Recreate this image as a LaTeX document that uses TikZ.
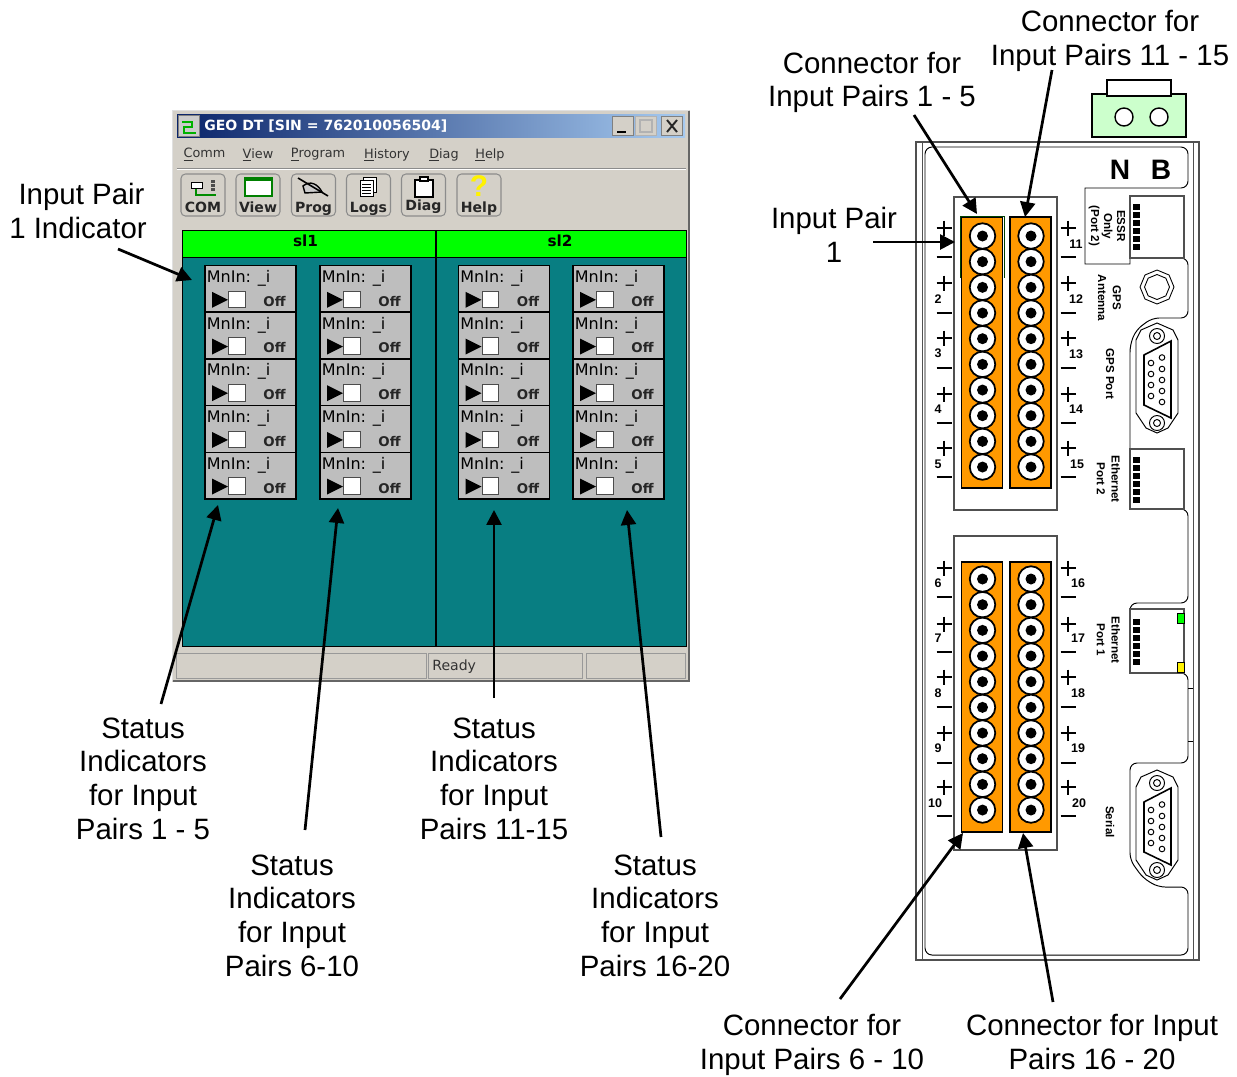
\documentclass[tikz,border=0pt]{standalone}
\usepackage{fontspec}
\setmainfont{Liberation Sans}
\newfontfamily\winfont{DejaVu Sans}
\usepackage{tikz}
\usetikzlibrary{arrows.meta,calc,shapes.geometric}
\definecolor{wingray}{HTML}{D4D0C8}
\definecolor{winteal}{HTML}{087E82}
\definecolor{wingreen}{HTML}{00FF00}
\definecolor{cellgray}{HTML}{BEBEBE}
\definecolor{blockorange}{HTML}{FF9900}
\definecolor{plugmint}{HTML}{CCFFCC}
\definecolor{titledark}{HTML}{0A246A}
\definecolor{titlelight}{HTML}{A6CAF0}
\definecolor{devline}{HTML}{505050}

\begin{document}
\begin{tikzpicture}[
  x=0.02cm, y=-0.02cm,
  lbl/.style={align=center, inner sep=0pt, font=\fontsize{16.75}{19.2}\selectfont},
  arw/.style={line width=1.55pt, -{Triangle[length=8.5pt,width=8.5pt]}},
  cell/.style={draw=black, fill=cellgray, line width=0.8pt, minimum width=1.82cm,
               minimum height=0.934cm, inner sep=0pt},
  celltxt/.style={inner sep=0pt, anchor=west, font=\winfont\fontsize{9.1}{10}\selectfont},
  celloff/.style={inner sep=0pt, font=\winfont\bfseries\fontsize{7.6}{9}\selectfont, text=black!85},
  chk/.style={draw=black!70, fill=white, line width=0.5pt, minimum size=0.33cm, inner sep=0pt},
  menu/.style={inner sep=0pt, font=\winfont\fontsize{7.3}{9}\selectfont, text=black!80},
  tool/.style={draw=black!45, fill=wingray, rounded corners=2.5pt, line width=0.6pt,
               minimum width=0.88cm, minimum height=0.84cm, inner sep=0pt},
  tooltxt/.style={inner sep=0pt, font=\winfont\bfseries\fontsize{8}{9}\selectfont, text=black!85},
  field/.style={draw=black!40, fill=wingray, line width=0.5pt, inner sep=0pt,
                minimum height=0.5cm, anchor=north west},
  frm/.style={draw=devline, fill=white, line width=1.1pt, minimum width=2.06cm, inner sep=0pt},
  blk/.style={draw=black, fill=blockorange, line width=0.9pt, minimum width=0.82cm, inner sep=0pt},
  pin/.style={circle, draw=black, fill=white, line width=1pt, minimum size=0.51cm, inner sep=0pt},
  pinhole/.style={circle, fill=black, minimum size=0.22cm, inner sep=0pt},
  num/.style={inner sep=0pt, font=\bfseries\fontsize{7.1}{8}\selectfont},
  devtxt/.style={inner sep=0pt, rotate=-90, align=center, font=\bfseries\fontsize{6.6}{8.4}\selectfont},
  dev/.style={draw=black, line width=0.55pt},
  sign/.style={draw=black, line width=0.9pt},
  port/.style={draw=devline, fill=white, line width=0.6pt, minimum width=1.08cm, inner sep=0pt}
]
  \useasboundingbox (0,0) rectangle (1237,1076);

  % window
  \fill[wingray] (172,110) rectangle (690,682);
  \draw[black!12, line width=0.8pt] (172.5,681) -- (172.5,110.5) -- (689,110.5);
  \draw[black!60, line width=1.1pt] (172.5,681) -- (689,681) -- (689,110.5);
  \shade[left color=titledark, right color=titlelight] (177,114) rectangle (685,137);
  \node[draw=black!50, fill=black!20, minimum size=0.42cm, inner sep=0pt] (appicon) at (189,126) {};
  \draw[green!70!black, line width=1pt] (182,122) -- (192,122) -- (192,127) -- (184,127) -- (184,133) -- (196,133);
  \node[anchor=west, inner sep=0pt, text=white, font=\winfont\bfseries\fontsize{8}{9}\selectfont]
    (title) at (204,126) {GEO DT [SIN = 762010056504]};
  \foreach \n/\c/\x in {min/black!50/623,max/black!30/646,cls/black!50/672}
    \node[draw=\c, fill=wingray, minimum width=0.42cm, minimum height=0.38cm, inner sep=0pt] (\n) at (\x,126) {};
  \draw[black, line width=1.2pt] (617,132) -- (626,132);
  \draw[black!30, line width=0.7pt] (640,120) rectangle (652,132);
  \draw[black!85, line width=1.1pt] (667,120) -- (677,132) (677,120) -- (667,132);

  \node[menu] (mcomm) at (204.5,155) {\underline{C}omm};
  \node[menu] (mview) at (258,155) {\underline{V}iew};
  \node[menu] (mprog) at (318,155) {\underline{P}rogram};
  \node[menu] (mhist) at (387,155) {\underline{H}istory};
  \node[menu] (mdiag) at (444,155) {\underline{D}iag};
  \node[menu] (mhelp) at (490,155) {\underline{H}elp};
  \draw[black!45, line width=0.5pt] (177,168) -- (686,168);
  \draw[white, line width=0.5pt] (177,169) -- (686,169);

  \foreach \n/\x/\t/\ty in {com/203/COM/207,view/258/View/207,prog/313.5/Prog/209,logs/368.5/Logs/209,diag/423.5/Diag/207,help/479/Help/209} {
    \node[tool] (b\n) at (\x,195) {};
    \node[tooltxt] (t\n) at (\x,\ty) {\t};
  }
  % toolbar icons
  \draw[black, fill=white, line width=0.5pt] (191,182) rectangle (202,188);
  \draw[green!55!black, line width=0.9pt] (196,189) -- (196,195) -- (216,195);
  \foreach \y in {180,184,188} \fill[black!70] (211,\y) rectangle (215,\y+2.5);
  \draw[green!50!black, fill=white, line width=1.2pt] (245,178) rectangle (272,196);
  \draw[green!50!black, line width=2pt] (245,179) -- (272,179);
  \draw[black, fill=black!20, line width=0.8pt] (303,186) .. controls (310,180) and (318,184) .. (322,192) -- (305,193) -- cycle;
  \draw[black, line width=0.9pt] (298,178) -- (328,196);
  \draw[black, fill=white, line width=0.5pt] (363,177) rectangle (376,192);
  \draw[black, fill=white, line width=0.5pt] (360,180) rectangle (373,196);
  \foreach \y in {184,187,190,193} \draw[black, line width=0.5pt] (362,\y) -- (371,\y);
  \draw[black, fill=white, line width=0.7pt] (415,180) rectangle (433,197);
  \draw[black, fill=white, line width=0.7pt] (420,177) rectangle (428,181);
  \node[inner sep=0pt, text=yellow, font=\bfseries\fontsize{17}{17}\selectfont] (qmark) at (479,186.5) {?};

  % client area
  \node[draw=black, fill=wingreen, line width=0.6pt, minimum width=10.08cm, minimum height=0.54cm,
        anchor=north west, inner sep=0pt] (head) at (182,230) {};
  \node[draw=black, fill=winteal, line width=0.6pt, minimum width=10.08cm, minimum height=7.78cm,
        anchor=north west, inner sep=0pt] (area) at (182,257) {};
  \draw[black, line width=0.6pt] (436,230) -- (436,646);
  \node[inner sep=0pt, font=\winfont\bfseries\fontsize{8.7}{10}\selectfont] (sla) at (305.5,241) {sl1};
  \node[inner sep=0pt, font=\winfont\bfseries\fontsize{8.7}{10}\selectfont] (slb) at (560,241) {sl2};

  \foreach \c/\x in {1/250.5,2/365.5,3/504,4/618.5}
    \foreach \r/\y in {1/288.8,2/335.5,3/382.2,4/428.9,5/475.6} {
      \node[cell] (cell\c\r) at (\x,\y) {};
      \node[celltxt] (mn\c\r) at ($(cell\c\r)+(-44,-10.5)$) {MnIn: \_i};
      \fill[black] ($(cell\c\r)+(-38.5,3)$) -- ($(cell\c\r)+(-38.5,19)$) -- ($(cell\c\r)+(-22.5,11)$) -- cycle;
      \node[chk] (sq\c\r) at ($(cell\c\r)+(-13.5,10.5)$) {};
      \node[celloff] (off\c\r) at ($(cell\c\r)+(24,12.5)$) {Off};
    }

  \node[field, minimum width=5cm] (fa) at (176,653) {};
  \node[field, minimum width=3.08cm] (fb) at (428,653) {};
  \node[field, minimum width=1.98cm] (fc) at (586,653) {};
  \node[anchor=west, inner sep=0pt, font=\winfont\fontsize{8}{10}\selectfont, text=black!80] (ready) at (432,667) {Ready};

  % device
  \draw[dev, draw=devline, line width=0.8pt] (916,142) rectangle (1199,960);
  \draw[dev, draw=devline] (922,142) -- (922,960) (1193,142) -- (1193,960);
  \draw[dev, rounded corners=4pt] (925,200) -- (925,147) -- (1188,147) -- (1188,188)
    -- (1120,188) [sharp corners] -- (1085,188) -- (1085,264) -- (1130,264) -- (1130,258) [rounded corners=4pt]
    -- (1188,258) -- (1188,318) -- (1152,318) -- (1136,330) -- (1130,345) [sharp corners] -- (1130,509) [rounded corners=4pt]
    -- (1188,509) -- (1188,603) -- (1130,603) [sharp corners] -- (1130,609) -- (1130,673) [rounded corners=4pt]
    -- (1188,673) -- (1188,763) -- (1130,763) -- (1130,860) -- (1143,878) -- (1158,887) -- (1188,887)
    -- (1188,955) -- (925,955) -- (925,200);
  \draw[dev] (1188,688) -- (1193,688) (1188,741) -- (1193,741);

  \node[draw=black, fill=plugmint, line width=0.9pt, minimum width=1.88cm, minimum height=0.86cm, inner sep=0pt] (plug) at (1139,115.5) {};
  \node[draw=black, fill=white, line width=0.7pt, minimum width=1.28cm, minimum height=0.32cm, inner sep=0pt] (plugtop) at (1139,88) {};
  \node[circle, draw=black, fill=white, line width=0.8pt, minimum size=0.36cm, inner sep=0pt] (plugl) at (1124,117) {};
  \node[circle, draw=black, fill=white, line width=0.8pt, minimum size=0.36cm, inner sep=0pt] (plugr) at (1159,117) {};

  \node[inner sep=0pt, font=\bfseries\fontsize{16}{16}\selectfont] (labn) at (1120,170) {N};
  \node[inner sep=0pt, font=\bfseries\fontsize{16}{16}\selectfont] (labb) at (1161,170) {B};

  % upper and lower terminal frames
  \node[frm, minimum height=6.26cm] (frmup) at (1005.5,353.5) {};
  \node[frm, minimum height=6.28cm] (frmlo) at (1005.5,693) {};
  \node[blk, minimum height=5.42cm] (blkA) at (982,352.5) {};
  \node[blk, minimum height=5.42cm] (blkB) at (1030.5,352.5) {};
  \node[blk, minimum height=5.4cm] (blkC) at (982,697) {};
  \node[blk, minimum height=5.4cm] (blkD) at (1030.5,697) {};
  \draw[green!25!black, line width=0.3pt] (960,278) -- (960,216) -- (1004,216) -- (1004,278);

  \foreach \n/\x in {a/982.5,b/1031} {
    \foreach \i in {0,...,9} {
      \node[pin] (\n up\i) at (\x,236+25.67*\i) {};
      \node[pinhole] (\n uph\i) at (\n up\i) {};
      \node[pin] (\n lo\i) at (\x,579+25.67*\i) {};
      \node[pinhole] (\n loh\i) at (\n lo\i) {};
    }
  }

  \foreach \p/\m in {228/257,283/313,338/368,394/423,448/477,568/597,624/652,677/707,733/763,787/816}
    \foreach \x in {944,1068} {
      \draw[sign] (\x-7.5,\p) -- (\x+7.5,\p) (\x,\p-7.5) -- (\x,\p+7.5);
      \draw[sign] (\x-7.5,\m) -- (\x+7.5,\m);
    }

  \foreach \t/\x/\y in {2/938/299,3/938/353,4/938/409,5/938/464,6/938/583,7/938/638,8/938/693,9/938/748,10/935/803,
                        11/1076/244,12/1076/299,13/1076/354,14/1076/409,15/1077/464,16/1078/583,17/1078/638,18/1078/693,19/1078/748,20/1079/803}
    \node[num] (num\t) at (\x,\y) {\t};

  \node[devtxt, font=\bfseries\fontsize{6.6}{7.4}\selectfont] (essr) at (1107,226) {ESSR\\Only\\(Port 2)};
  \node[devtxt] (ant) at (1109.5,298) {GPS\\Antenna};
  \node[devtxt] (gps) at (1110,374) {GPS Port};
  \node[devtxt] (eth2) at (1108.5,479) {Ethernet\\Port 2};
  \node[devtxt] (eth1) at (1108.5,640) {Ethernet\\Port 1};
  \node[devtxt] (ser) at (1110,822) {Serial};

  % ports
  \node[port, minimum height=1.24cm] (rjA) at (1157,227) {};
  \node[port, minimum height=1.2cm] (rjB) at (1157,479) {};
  \node[port, minimum height=1.28cm] (rjC) at (1157,641) {};
  \foreach \y in {207,215,223,231,239,247, 460,468,476,484,492,500, 622,630,638,646,654,662}
    \fill[black] (1133,\y-3) rectangle (1140,\y+3.2);
  \node[draw=black, fill=wingreen, line width=0.4pt, minimum width=0.14cm, minimum height=0.2cm, inner sep=0pt] (ledg) at (1180.5,618) {};
  \node[draw=black, fill=yellow, line width=0.4pt, minimum width=0.14cm, minimum height=0.2cm, inner sep=0pt] (ledy) at (1180.5,667) {};

  \node[regular polygon, regular polygon sides=8, shape border rotate=22.5, draw=black, line width=0.5pt, minimum size=0.68cm, inner sep=0pt] (nutA) at (1157,287) {};
  \node[regular polygon, regular polygon sides=8, shape border rotate=22.5, draw=black, line width=0.5pt, minimum size=0.5cm, inner sep=0pt] (nutB) at (1157,287) {};

  \foreach \d in {-447,0} {
    \begin{scope}[shift={(0,\d)}]
      \draw[dev, fill=white] (1157,770) -- (1173,777) -- (1178,787) -- (1178,860) -- (1168,875) -- (1157,880)
        -- (1146,875) -- (1136,860) -- (1136,787) -- (1141,777) -- cycle;
      \draw[black, line width=0.9pt] (1144,802) -- (1171,788) -- (1171,865) -- (1144,852) -- cycle;
      \foreach \y in {783,870} {
        \draw[dev] (1157,\y) circle (7.5);
        \draw[dev] (1157,\y) circle (3.5);
      }
      \foreach \y in {810,821,832,843} \draw[dev] (1151,\y) circle (2.8);
      \foreach \y in {804.5,816,827,838,849} \draw[dev] (1162,\y) circle (2.8);
    \end{scope}
  }

  % labels
  \node[lbl] (lblind) at (78,211) {\hspace*{4pt}Input Pair\\1 Indicator};
  \node[lbl] (lblsa) at (143,778.5) {Status\\Indicators\\for Input\\Pairs 1 - 5};
  \node[lbl] (lblsb) at (292,915.5) {Status\\Indicators\\for Input\\Pairs 6-10};
  \node[lbl] (lblsc) at (494,778.5) {Status\\Indicators\\for Input\\Pairs 11-15};
  \node[lbl] (lblsd) at (655,915.5) {Status\\Indicators\\for Input\\Pairs 16-20};
  \node[lbl] (lblpair) at (834,235) {Input Pair\\1};
  \node[lbl] (lblca) at (872,82.5) {Connector for\\Input Pairs 1 - 5};
  \node[lbl] (lblcb) at (1110,41) {Connector for\\Input Pairs 11 - 15};
  \node[lbl] (lblcc) at (812,1045) {Connector for\\Input Pairs 6 - 10};
  \node[lbl] (lblcd) at (1092,1042) {Connector for Input\\Pairs 16 - 20};

  \draw[arw] ($(lblind)+(40,38)$) -- ($(cell11)+(-58.5,-8.8)$);
  \draw[arw] ($(lblsa)+(18,-74.5)$) -- ($(cell15)+(-32.5,29.4)$);
  \draw[arw] ($(lblsb)+(13,-85.5)$) -- ($(cell25)+(-27.5,32.4)$);
  \draw[arw] ($(lblsc)+(0,-80.5)$) -- ($(cell35)+(-10,34.4)$);
  \draw[arw] ($(lblsd)+(6,-78.5)$) -- ($(cell45)+(8.5,34.4)$);
  \draw[arw] ($(lblpair)+(39,7)$) -- ($(frmup)+(-50.5,-111.5)$);
  \draw[arw] ($(lblca)+(42,32.5)$) -- ($(blkA)+(-5,-138.5)$);
  \draw[arw] ($(lblcb)+(-58,29)$) -- ($(blkB)+(-5.5,-135.5)$);
  \draw[arw] ($(lblcc)+(28,-46)$) -- ($(blkC)+(-19,136)$);
  \draw[arw] ($(lblcd)+(-39,-40)$) -- ($(blkD)+(-7.5,136)$);
\end{tikzpicture}
\end{document}
